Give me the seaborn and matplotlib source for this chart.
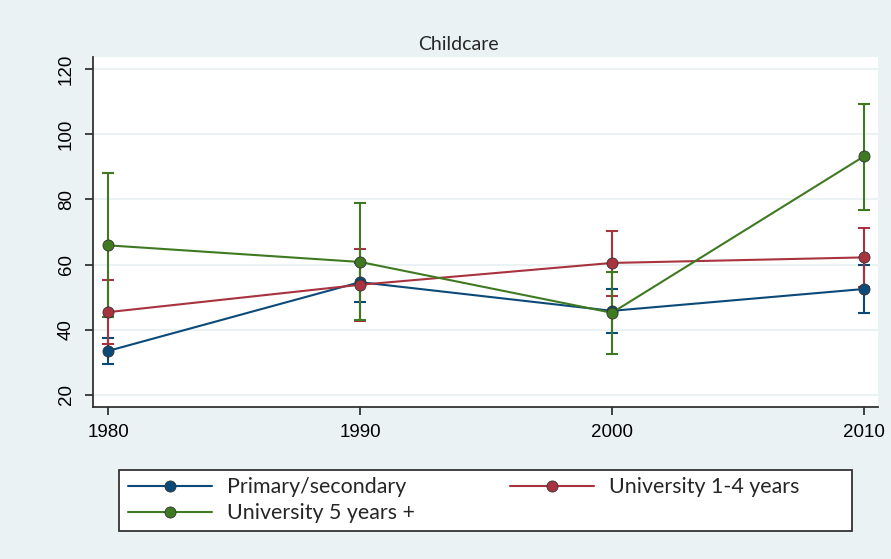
import seaborn as sns
import matplotlib.pyplot as plt
import pandas as pd
from matplotlib.lines import Line2D
from matplotlib.patches import Rectangle

years = [1980, 1990, 2000, 2010]
groups = ['Primary/secondary', 'University 1-4 years', 'University 5 years +']

# estimated means and confidence limits
prim = [33.5, 54.6, 45.8, 52.5]
prim_lo = [29.5, 48.6, 39.1, 45.2]
prim_hi = [37.6, 60.6, 52.4, 59.9]

uni14 = [45.4, 53.8, 60.5, 62.2]
uni14_lo = [35.7, 42.8, 50.5, 53.1]
uni14_hi = [55.2, 64.7, 70.4, 71.3]

uni5 = [65.9, 60.8, 45.2, 93.2]
uni5_lo = [44.0, 43.0, 32.4, 76.9]
uni5_hi = [88.1, 79.0, 57.6, 109.4]

colors = ['#0B4A78', '#A8323E', '#3F7A22']
bg = '#EAF2F3'

rows = []
for g, m, lo, hi in zip(groups, [prim, uni14, uni5], [prim_lo, uni14_lo, uni5_lo], [prim_hi, uni14_hi, uni5_hi]):
    for yr, v, l, h in zip(years, m, lo, hi):
        rows.append({'year': yr, 'value': v, 'lo': l, 'hi': h, 'group': g})
df = pd.DataFrame(rows)

sns.set_style("white")
plt.rcParams['font.family'] = ['Liberation Sans', 'DejaVu Sans']

fig = plt.figure(figsize=(8.91, 5.59), dpi=100, facecolor=bg)
ax = fig.add_axes([0.1044, 0.272, 0.881, 0.626])
ax.set_facecolor('white')

for g, c in zip(groups, colors):
    d = df[df['group'] == g]
    ax.errorbar(d['year'], d['value'], yerr=[d['value'] - d['lo'], d['hi'] - d['value']],
                fmt='none', ecolor=c, elinewidth=1.5, capsize=4.3, capthick=1.5, zorder=2)

sns.lineplot(data=df, x='year', y='value', hue='group', palette=colors, marker='o',
             markersize=8, markeredgecolor='#333333', markeredgewidth=0.6,
             linewidth=1.5, legend=False, ax=ax, zorder=3)

ax.set_xlim(1979.4, 2010.56)
ax.set_ylim(16.3, 123.7)
ax.set_xticks(years)
ax.set_yticks([20, 40, 60, 80, 100, 120])
ax.grid(axis='y', color=bg, linewidth=1.5)
ax.set_axisbelow(True)
ax.set_xlabel('')
ax.set_ylabel('')
for s in ['top', 'right']:
    ax.spines[s].set_visible(False)
for s in ['left', 'bottom']:
    ax.spines[s].set_color('#333333')
    ax.spines[s].set_linewidth(1.3)
ax.tick_params(axis='both', direction='out', length=6, width=1.3, color='#333333',
               labelsize=13.5, labelcolor='black', left=True, bottom=True, pad=6)
ax.tick_params(axis='y', pad=7)
for lab in ax.get_yticklabels():
    lab.set_rotation(90)
    lab.set_va('center')
fig.text(0.514, 1 - 45 / 559, 'Childcare', fontsize=14, family=['Lato', 'DejaVu Sans'],
         ha='center', va='center')

# legend box
fig.add_artist(Rectangle((119 / 891, 1 - 531 / 559), (852 - 119) / 891, 61 / 559,
                         transform=fig.transFigure, facecolor='white', edgecolor='#333333',
                         linewidth=1.3, zorder=1))

handles = [Line2D([0], [0], color=c, linewidth=1.5, marker='o', markersize=8,
                  markeredgecolor='#333333', markeredgewidth=0.6) for c in colors]
leg_kw = dict(loc='upper left', frameon=False, numpoints=1, borderpad=0, borderaxespad=0,
              handlelength=3.95, handletextpad=0.7, labelspacing=0.3,
              prop={'family': ['Lato', 'DejaVu Sans'], 'size': 15.4})
leg1 = fig.legend([handles[0], handles[2]], [groups[0], groups[2]],
                  bbox_to_anchor=(128 / 891, 1 - 477 / 559), **leg_kw)
leg2 = fig.legend([handles[1]], [groups[1]],
                  bbox_to_anchor=(510 / 891, 1 - 477 / 559), **leg_kw)
leg1.set_zorder(2)
leg2.set_zorder(2)

fig.savefig('out.png', dpi=100, facecolor=bg)
